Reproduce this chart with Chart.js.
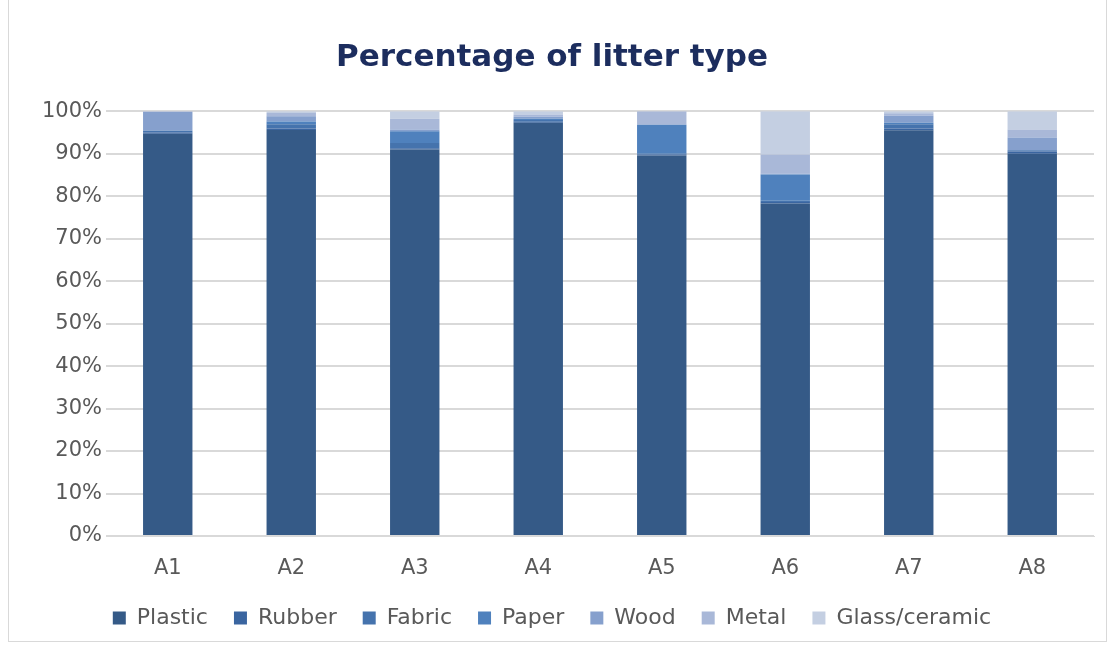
<!DOCTYPE html>
<html>
<head>
<meta charset="utf-8">
<script src="https://cdn.jsdelivr.net/npm/chart.js@4"></script>
<style>
    html, body { margin: 0; padding: 0; background: #fff; }
    #wrap { position: relative; width: 1114px; height: 649px; }
    #frame { position: absolute; left: 8px; top: -1px; width: 1097px; height: 641px; border: 1px solid #d9d9d9; }
    canvas { position: absolute; left: 0; top: 0; }
</style>
</head>
<body>
<div id="wrap">
    <div id="frame"></div>
    <canvas id="chart" width="1114" height="649"></canvas>
</div>
<script>
// ---------- Data ----------
const sites = ["A1", "A2", "A3", "A4", "A5", "A6", "A7", "A8"];
const plastic = [94.7, 95.6, 91.0, 97.3, 89.6, 78.3, 95.5, 90.0];
const rubber  = [0.3, 0.3, 0.3, 0.2, 0.2, 0.3, 0.4, 0.5];
const fabric  = [0.4, 1.0, 1.2, 0.4, 0.2, 0.3, 1.0, 0.3];
const paper   = [0.0, 0.7, 2.8, 0.3, 6.8, 6.2, 0.4, 0.0];
const wood    = [4.4, 1.2, 0.4, 0.5, 0.0, 0.2, 1.6, 3.0];
const metal   = [0.2, 0.8, 2.5, 0.5, 3.2, 4.5, 0.6, 1.9];
const glass   = [0.0, 0.4, 1.8, 0.8, 0.0, 10.2, 0.5, 4.3];
const yTicks = [0, 10, 20, 30, 40, 50, 60, 70, 80, 90, 100];

const font = "'DejaVu Sans', sans-serif";
const grey = "#595959";

function series(label, data, color) {
    return { label: label, data: data, backgroundColor: color, borderWidth: 0, barPercentage: 0.4, categoryPercentage: 1 };
}

new Chart(document.getElementById("chart"), {
    type: "bar",
    data: {
        labels: sites,
        datasets: [
            series("Plastic", plastic, "#355a87"),
            series("Rubber", rubber, "#3a65a0"),
            series("Fabric", fabric, "#4573ad"),
            series("Paper", paper, "#4f81bd"),
            series("Wood", wood, "#86a0cd"),
            series("Metal", metal, "#a9b8d8"),
            series("Glass/ceramic", glass, "#c4cfe2")
        ]
    },
    options: {
        responsive: false,
        animation: false,
        layout: { padding: { left: 10, right: 20, top: 0, bottom: 10 } },
        plugins: {
            title: {
                display: true,
                text: "Percentage of litter type",
                color: "#1c2d5e",
                font: { family: font, size: 31, weight: "bold" },
                padding: { top: 39, bottom: 35 }
            },
            legend: {
                position: "bottom",
                labels: {
                    color: grey,
                    font: { family: font, size: 22 },
                    boxWidth: 13,
                    boxHeight: 13,
                    padding: 26
                }
            },
            tooltip: { enabled: false }
        },
        scales: {
            x: {
                stacked: true,
                grid: { display: false },
                border: { color: "#d9d9d9" },
                afterFit: function (scale) { scale.height = 45; },
                ticks: { color: grey, font: { family: font, size: 21 }, padding: 12 }
            },
            y: {
                stacked: true,
                min: 0,
                max: 100,
                afterFit: function (scale) { scale.width = 96; },
                afterBuildTicks: function (scale) { scale.ticks = yTicks.map(v => ({ value: v })); },
                grid: { color: "#d9d9d9", drawTicks: false, lineWidth: 2 },
                border: { display: false },
                ticks: {
                    color: grey,
                    font: { family: font, size: 21 },
                    padding: 4,
                    callback: v => v + "%"
                }
            }
        }
    }
});
</script>
</body>
</html>
